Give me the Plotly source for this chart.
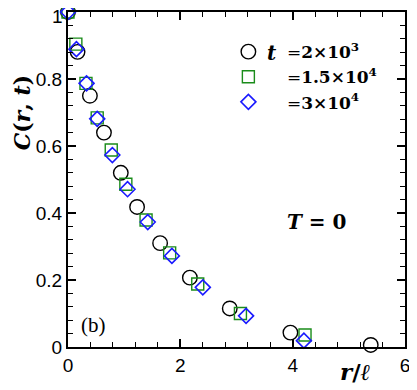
import plotly.graph_objects as go

# r/l and C(r,t) for the three times
r_t1 = [0.0, 0.17, 0.39, 0.64, 0.94, 1.23, 1.64, 2.17, 2.88, 3.96, 5.39]
c_t1 = [1.0, 0.881, 0.75, 0.64, 0.52, 0.418, 0.31, 0.207, 0.115, 0.043, 0.006]

r_t2 = [0.0, 0.14, 0.32, 0.52, 0.77, 1.03, 1.39, 1.81, 2.31, 3.07, 4.22, 5.64]
c_t2 = [1.0, 0.904, 0.787, 0.684, 0.588, 0.486, 0.379, 0.281, 0.188, 0.10, 0.036, -0.004]

r_t3 = [0.0, 0.15, 0.33, 0.52, 0.79, 1.06, 1.42, 1.85, 2.40, 3.17, 4.20, 5.20]
c_t3 = [1.0, 0.889, 0.787, 0.681, 0.573, 0.471, 0.373, 0.272, 0.178, 0.093, 0.019, -0.004]

y_ticks = [0, 0.2, 0.4, 0.6, 0.8, 1]
y_ticktext = ["0", "0.2", "0.4", "0.6", "0.8", ""]  # the "1" is added as an annotation
x_ticks = [0, 2, 4, 6]

names = ["=<b>2×10<sup>3</sup></b>", "=<b>1.5×10<sup>4</sup></b>", "=<b>3×10<sup>4</sup></b>"]

fig = go.Figure()
fig.add_trace(go.Scatter(x=r_t1, y=c_t1, mode="markers", name=names[0], cliponaxis=False,
                         marker=dict(symbol="circle-open", size=14.5, color="black", line=dict(width=1.4))))
fig.add_trace(go.Scatter(x=r_t2, y=c_t2, mode="markers", name=names[1], cliponaxis=False,
                         marker=dict(symbol="square-open", size=12, color="#1a8c1a", line=dict(width=1.4))))
fig.add_trace(go.Scatter(x=r_t3, y=c_t3, mode="markers", name=names[2], cliponaxis=False,
                         marker=dict(symbol="diamond-open", size=11.5, color="#1a1aff", line=dict(width=1.6))))

axis_common = dict(showgrid=False, zeroline=False, showline=True, linecolor="black", linewidth=2,
                   mirror="allticks", ticks="inside", ticklen=8, tickwidth=1.5, tickcolor="black",
                   automargin=False,
                   tickfont=dict(family="Liberation Sans", size=19, color="black"),
                   minor=dict(ticks="inside", ticklen=5, tickwidth=1.2, tickcolor="black"))

fig.update_xaxes(range=[0, 6], tickvals=x_ticks, minor_dtick=0.4, **axis_common)
fig.update_yaxes(range=[0, 1], tickvals=y_ticks, ticktext=y_ticktext, minor_dtick=0.04, **axis_common)

serif = "DejaVu Serif"

# page body adds an 8px offset, so the figure is drawn 8px smaller
fig.update_layout(
    width=409, height=382,
    margin=dict(l=60, r=12, t=4, b=43),
    plot_bgcolor="white", paper_bgcolor="white",
    showlegend=True,
    legend=dict(x=0.421, y=0.934, xanchor="left", yanchor="top", bgcolor="rgba(0,0,0,0)",
                font=dict(family=serif, size=17, color="black"),
                itemwidth=67, tracegroupgap=0),
    annotations=[
        dict(text="1", x=0, y=1, xref="paper", yref="paper", showarrow=False, xshift=-3, yshift=-4,
             xanchor="right", yanchor="middle", font=dict(family="Liberation Sans", size=19, color="black")),
        dict(text="<b><i>t</i></b>", x=0.585, y=0.878, xref="paper", yref="paper", showarrow=False,
             xanchor="left", yanchor="middle", font=dict(family=serif, size=20, color="black")),
        dict(text="<b><i>C</i>(<i>r</i>, <i>t</i>)</b>", x=-0.137, y=0.70, xref="paper", yref="paper",
             showarrow=False, textangle=-90, xanchor="center", yanchor="middle",
             font=dict(family=serif, size=22, color="black")),
        dict(text="<b><i>r</i>/<i>ℓ</i></b>", x=0.852, y=-0.074, xref="paper", yref="paper", showarrow=False,
             xanchor="center", yanchor="middle", font=dict(family=serif, size=23, color="black")),
        dict(text="(b)", x=0.077, y=0.066, xref="paper", yref="paper", showarrow=False,
             xanchor="center", yanchor="middle", font=dict(family="Liberation Serif", size=21, color="black")),
        dict(text="<b><i>T</i> = 0</b>", x=0.74, y=0.373, xref="paper", yref="paper", showarrow=False,
             xanchor="center", yanchor="middle", font=dict(family=serif, size=20, color="black")),
    ],
)

fig.write_html("out.html")
